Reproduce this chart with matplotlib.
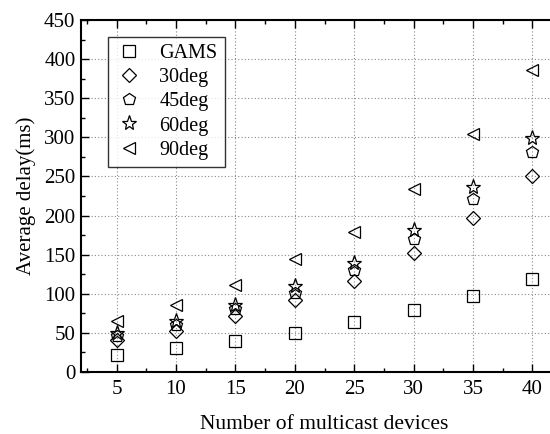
import matplotlib
matplotlib.use("Agg")
import matplotlib.pyplot as plt
from matplotlib.ticker import MultipleLocator

plt.rcParams['font.family'] = ['Liberation Serif', 'DejaVu Serif']
plt.rcParams['mathtext.fontset'] = 'stix'

devices = [5, 10, 15, 20, 25, 30, 35, 40]
gams = [22, 31, 39, 50, 63.5, 79, 97, 118.5]
deg30 = [40.5, 53, 71, 92.5, 116, 151.5, 197, 250.5]
deg45 = [45.5, 60.5, 80, 101, 130, 170, 221.5, 281.5]
deg60 = [50, 65, 86, 110, 139.5, 182, 236, 299.5]
deg90 = [65.5, 85.5, 111, 144.5, 179.5, 234.5, 304.5, 386.5]

series = [("GAMS", gams, 's'), ("30deg", deg30, 'D'), ("45deg", deg45, 'p'),
          ("60deg", deg60, '*'), ("90deg", deg90, '<')]
sizes = {'s': 8, 'D': 7, 'p': 9, '*': 11, '<': 9}

fig = plt.figure(figsize=(5.5, 4.34), dpi=100)
W, H = 550, 434
ax = fig.add_axes([81 / W, (H - 372) / H, (568 - 81) / W, 352 / H])

for name, vals, m in series:
    ax.plot(devices, vals, linestyle='none', marker=m, markersize=sizes[m],
            markerfacecolor='none', markeredgecolor='black', markeredgewidth=0.9,
            label=name)

ax.set_xlim(2, 43)
ax.set_ylim(0, 450)
ax.xaxis.set_major_locator(MultipleLocator(5))
ax.xaxis.set_minor_locator(MultipleLocator(2.5))
ax.yaxis.set_major_locator(MultipleLocator(50))
ax.yaxis.set_minor_locator(MultipleLocator(25))
ax.tick_params(which='both', direction='in', top=True, right=False, labelsize=15, width=1)
ax.tick_params(which='major', length=6)
ax.tick_params(which='minor', length=3)
ax.tick_params(axis='x', pad=6)
ax.tick_params(axis='y', pad=4)
for s in ['left', 'bottom', 'top']:
    ax.spines[s].set_linewidth(1.5)
ax.spines['right'].set_visible(False)
ax.grid(True, which='major', linestyle=(0, (1, 2)), color='#888888', linewidth=0.8)
ax.set_axisbelow(True)

ax.set_xlabel("Number of multicast devices", fontsize=15.5, labelpad=11)
ax.set_ylabel("Average delay(ms)", fontsize=15, labelpad=6)

leg = ax.legend(loc='upper left', bbox_to_anchor=((108 - 81) / (568 - 81), (372 - 37) / 352),
                fontsize=14.5, frameon=True, fancybox=False, edgecolor='black',
                handlelength=1.4, handletextpad=0.8, labelspacing=0.25, borderpad=0.35,
                borderaxespad=0)
leg.get_frame().set_linewidth(1.0)

fig.savefig("out.png", dpi=100)
